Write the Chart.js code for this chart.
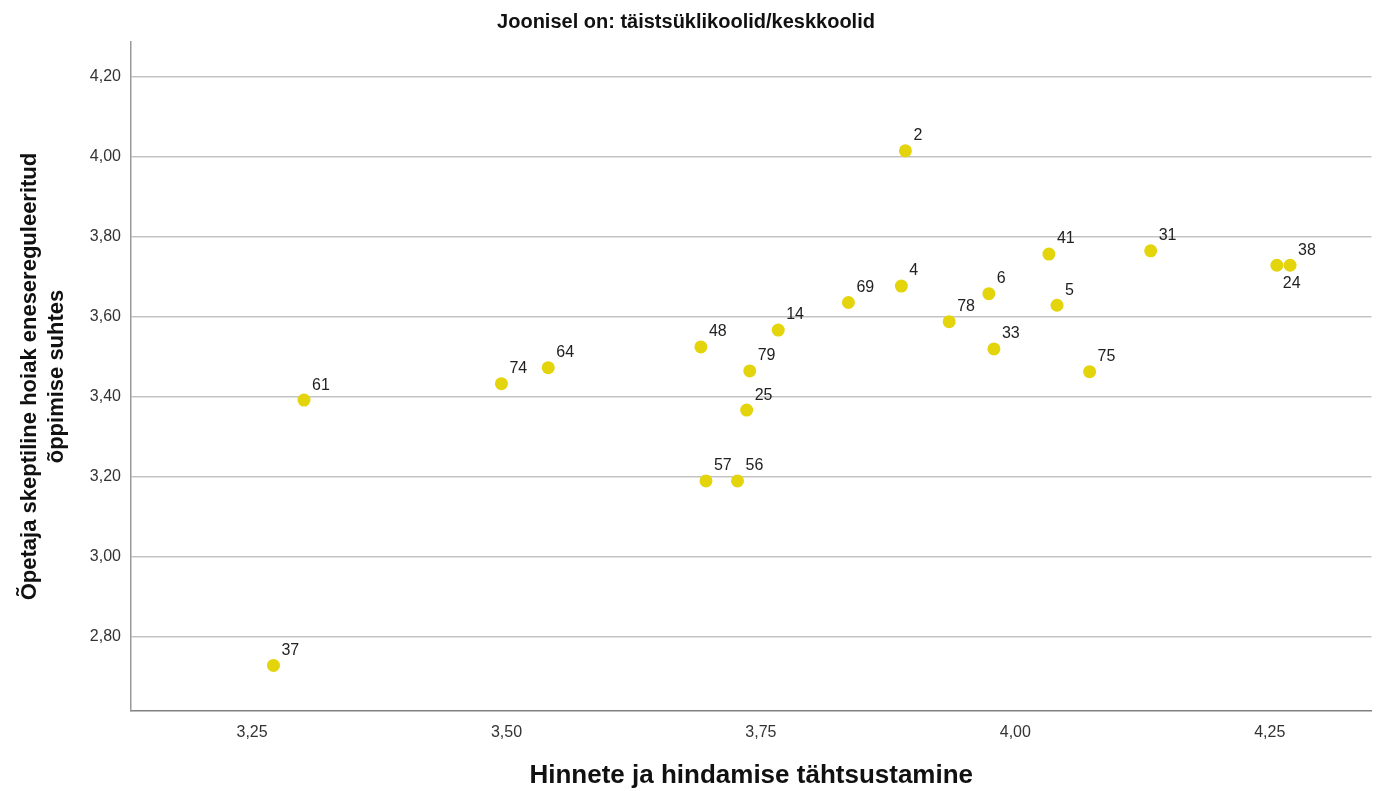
<!DOCTYPE html>
<html>
<head>
<meta charset="utf-8">
<script src="https://cdn.jsdelivr.net/npm/chart.js@4/dist/chart.umd.min.js"></script>
<style>
  html, body { margin: 0; padding: 0; background: #fff; }
</style>
</head>
<body>
<canvas id="chart" width="1378" height="791"></canvas>
<script>
// koolide numbrid ja väärtused (loetud jooniselt)
const schoolIds = [2, 48, 14, 79, 25, 69, 4, 78, 6, 33, 41, 5, 31, 24, 38, 75, 61, 74, 64, 57, 56, 37];
const gradeImportance = [3.892, 3.691, 3.767, 3.739, 3.736, 3.836, 3.888, 3.935, 3.974, 3.979, 4.033, 4.041,
  4.133, 4.257, 4.270, 4.073, 3.301, 3.495, 3.541, 3.696, 3.727, 3.271];
const skepticalAttitude = [4.015, 3.525, 3.567, 3.465, 3.367, 3.636, 3.677, 3.588, 3.658, 3.520, 3.757, 3.629,
  3.765, 3.729, 3.729, 3.463, 3.392, 3.433, 3.473, 3.190, 3.190, 2.729];
const xTicks = [3.25, 3.50, 3.75, 4.00, 4.25];
const yTicks = [2.80, 3.00, 3.20, 3.40, 3.60, 3.80, 4.00, 4.20];

const font = "'Liberation Sans', Arial, sans-serif";
const dotColor = "#e3d40c";

function comma(v) {
  return Number(v).toFixed(2).replace(".", ",");
}

// numbrid punktide kõrval
const pointLabels = {
  id: "pointLabels",
  afterDatasetsDraw(chart) {
    const ctx = chart.ctx;
    const meta = chart.getDatasetMeta(0);
    ctx.save();
    ctx.font = "16px " + font;
    ctx.fillStyle = "#222";
    ctx.textBaseline = "middle";
    ctx.textAlign = "left";
    meta.data.forEach((pt, i) => {
      const id = schoolIds[i];
      if (id === 24) {
        ctx.fillText(String(id), pt.x + 6, pt.y + 18);
      } else {
        ctx.fillText(String(id), pt.x + 8, pt.y - 15);
      }
    });
    ctx.restore();
  }
};

new Chart(document.getElementById("chart"), {
  type: "scatter",
  data: {
    datasets: [{
      data: gradeImportance.map((x, i) => ({ x: x, y: skepticalAttitude[i] })),
      backgroundColor: dotColor,
      borderColor: dotColor,
      pointRadius: 6.5,
      borderWidth: 0
    }]
  },
  options: {
    responsive: false,
    animation: false,
    layout: { padding: { left: 0, right: 6, top: 0, bottom: 0 } },
    plugins: {
      legend: { display: false },
      tooltip: { enabled: false },
      title: {
        display: true,
        text: "Joonisel on: täistsüklikoolid/keskkoolid",
        color: "#111",
        font: { family: font, size: 20, weight: "bold", lineHeight: 1.2 },
        padding: { top: 10, bottom: 8 }
      }
    },
    scales: {
      x: {
        type: "linear",
        min: 3.131,
        max: 4.350,
        afterBuildTicks: s => { s.ticks = xTicks.map(v => ({ value: v })); },
        afterFit: s => { s.height = 80; },
        grid: { display: false },
        border: { display: true, color: "#808080", width: 1.5 },
        ticks: {
          padding: 4,
          color: "#333",
          font: { family: font, size: 16 },
          callback: v => comma(v)
        },
        title: {
          display: true,
          text: "Hinnete ja hindamise tähtsustamine",
          color: "#111",
          font: { family: font, size: 26, weight: "bold", lineHeight: 1.2 },
          padding: { top: 0, bottom: 0 }
        }
      },
      y: {
        type: "linear",
        min: 2.615,
        max: 4.287,
        afterBuildTicks: s => { s.ticks = yTicks.map(v => ({ value: v })); },
        afterFit: s => { s.width = 131; },
        grid: { color: "#c4c4c4", lineWidth: 1.5, drawTicks: false },
        border: { display: true, color: "#999", width: 1.5 },
        ticks: {
          padding: 10,
          color: "#333",
          font: { family: font, size: 16 },
          callback: v => comma(v)
        },
        title: {
          display: true,
          text: ["Õpetaja skeptiline hoiak enesereguleeritud", "õppimise suhtes"],
          color: "#111",
          font: { family: font, size: 22, weight: "bold", lineHeight: 1.25 },
          padding: { top: 16, bottom: 0 }
        }
      }
    }
  },
  plugins: [pointLabels]
});
</script>
</body>
</html>
